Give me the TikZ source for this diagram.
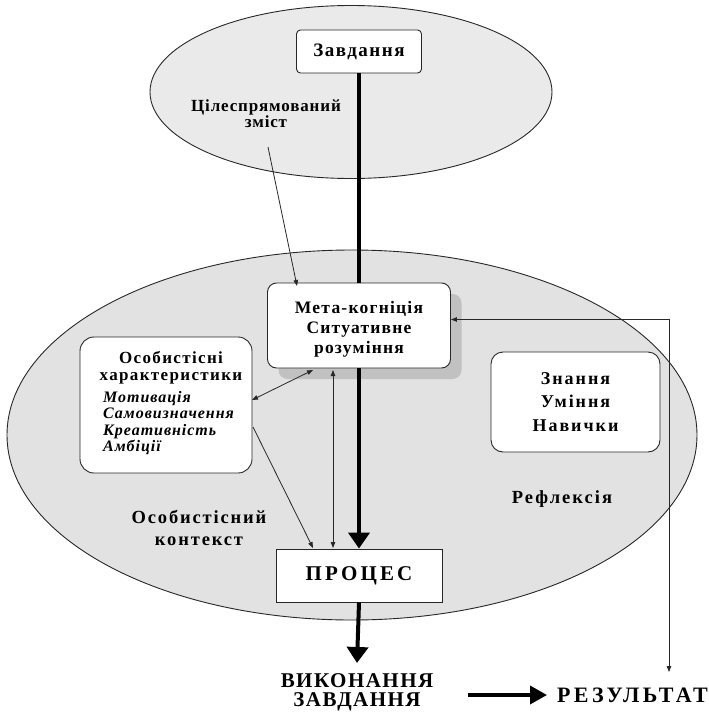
\documentclass[tikz,border=0pt]{standalone}
\usepackage{fontspec}
\setmainfont{Liberation Serif}
\usetikzlibrary{arrows.meta,shapes.geometric,shadows}
\newcommand\fsz[2]{\fontsize{#1}{#2}\selectfont}
\newcommand\ls[1]{\addfontfeature{LetterSpace=#1}}
\definecolor{ellfill}{RGB}{226,226,226}
\definecolor{topfill}{RGB}{234,234,234}
\definecolor{shade}{RGB}{185,185,185}
\definecolor{linecol}{RGB}{40,40,40}
\begin{document}
\begin{tikzpicture}[x=1pt,y=-1pt,
  ell/.style={ellipse, draw=linecol, line width=0.9pt, inner sep=0pt},
  rbox/.style={draw=linecol, line width=0.9pt, fill=white, rounded corners=7pt, inner sep=0pt},
  sbox/.style={draw=linecol, line width=0.9pt, fill=white, inner sep=0pt},
  txt/.style={align=center, inner sep=0pt},
  thin/.style={draw=linecol, line width=0.8pt, -{Triangle[length=6pt,width=4.5pt]}},
  thinboth/.style={draw=linecol, line width=0.8pt, {Triangle[length=6pt,width=4.5pt]}-{Triangle[length=6pt,width=4.5pt]}},
  thick/.style={draw=black, line width=4pt, -{Triangle[length=16pt,width=21pt]}},
  thickplain/.style={draw=black, line width=4pt}
]
\useasboundingbox (0,0) rectangle (709,712);
\fill[white] (0,0) rectangle (709,712);

% ellipses
\node[ell, fill=topfill, minimum width=402pt, minimum height=173pt] (topell) at (351,92) {};
\node[ell, fill=ellfill, minimum width=690pt, minimum height=370pt] (bigell) at (352,435) {};

% boxes
\node[rbox, minimum width=125pt, minimum height=43pt, rounded corners=4pt, font=\bfseries\fsz{19}{20}\ls{8}] (zav) at (359,51.5) {Завдання};
\node[rbox, minimum width=183pt, minimum height=85pt, rounded corners=9pt,
      drop shadow={shadow xshift=11pt, shadow yshift=-11pt, fill=shade, opacity=0.8}] (meta) at (359,325.5) {};
\node[txt, font=\bfseries\fsz{17.5}{20}\ls{7}] (metatext) at (359,329) {Мета-когніція\\Ситуативне\\розуміння};
\node[rbox, minimum width=172pt, minimum height=136pt, rounded corners=14pt] (osob) at (166,405) {};
\node[rbox, minimum width=169pt, minimum height=100pt, rounded corners=12pt,
      font=\bfseries\fsz{18}{23.5}\ls{11}, align=center] (zn) at (575.5,402) {Знання\\Уміння\\Навички};
\node[sbox, minimum width=166pt, minimum height=53pt, font=\bfseries\fsz{21}{22}\ls{15}] (proc) at (359,575.5) {ПРОЦЕС};

% texts
\node[txt, font=\bfseries\fsz{17}{16}\ls{5}] (goal) at (266,114) {Цілеспрямований\\зміст};
\node[txt, font=\bfseries\fsz{17}{17}\ls{8}] (osobhead) at (171,368) {Особистісні\\характеристики};
\node[txt, anchor=north west, align=left, font=\bfseries\itshape\fsz{16}{16.5}\ls{6}] (osoblist) at (103,391) {Мотивація\\Самовизначення\\Креативність\\Амбіції};
\node[txt, font=\bfseries\fsz{18.5}{22}\ls{10}] (ctx) at (199,528) {Особистісний\\контекст};
\node[txt, font=\bfseries\fsz{18.5}{18}\ls{11}] (refl) at (562,499) {Рефлексія};
\node[txt, font=\bfseries\fsz{21}{19}\ls{7}] (vyk) at (357,692) {ВИКОНАННЯ\\ЗАВДАННЯ};
\node[txt, font=\bfseries\fsz{22}{20}\ls{15}, anchor=west] (res) at (557,695) {РЕЗУЛЬТАТ};

% coordinates
\coordinate (gs) at (268,147);
\coordinate (mt) at (297,286);
\coordinate (mb1) at (313,370);
\coordinate (or1) at (252,400);
\coordinate (mb2) at (333,370);
\coordinate (pt2) at (333,548);
\coordinate (or2) at (253,427);
\coordinate (pt1) at (313,548);
\coordinate (fbc) at (669,319.5);
\coordinate (fbe) at (669,672);
\coordinate (ve) at (357,663);
\coordinate (ra) at (468,695);

% connectors
\draw[thickplain] (zav.south) -- (zav.south |- meta.north);
\draw[thick] (meta.south) -- (proc.north);
\draw[thick] (proc.south) -- (ve);
\draw[draw=black, line width=3.5pt, -{Triangle[length=17pt,width=18pt]}, shorten >=10pt] (ra) -- (res.west);
\draw[thin] (gs) -- (mt);
\draw[thinboth] (mb1) -- (or1);
\draw[thinboth] (mb2) -- (pt2);
\draw[thin] (or2) -- (pt1);
\draw[thinboth] (meta.east |- fbc) -- (fbc) -- (fbe);
\end{tikzpicture}
\end{document}
